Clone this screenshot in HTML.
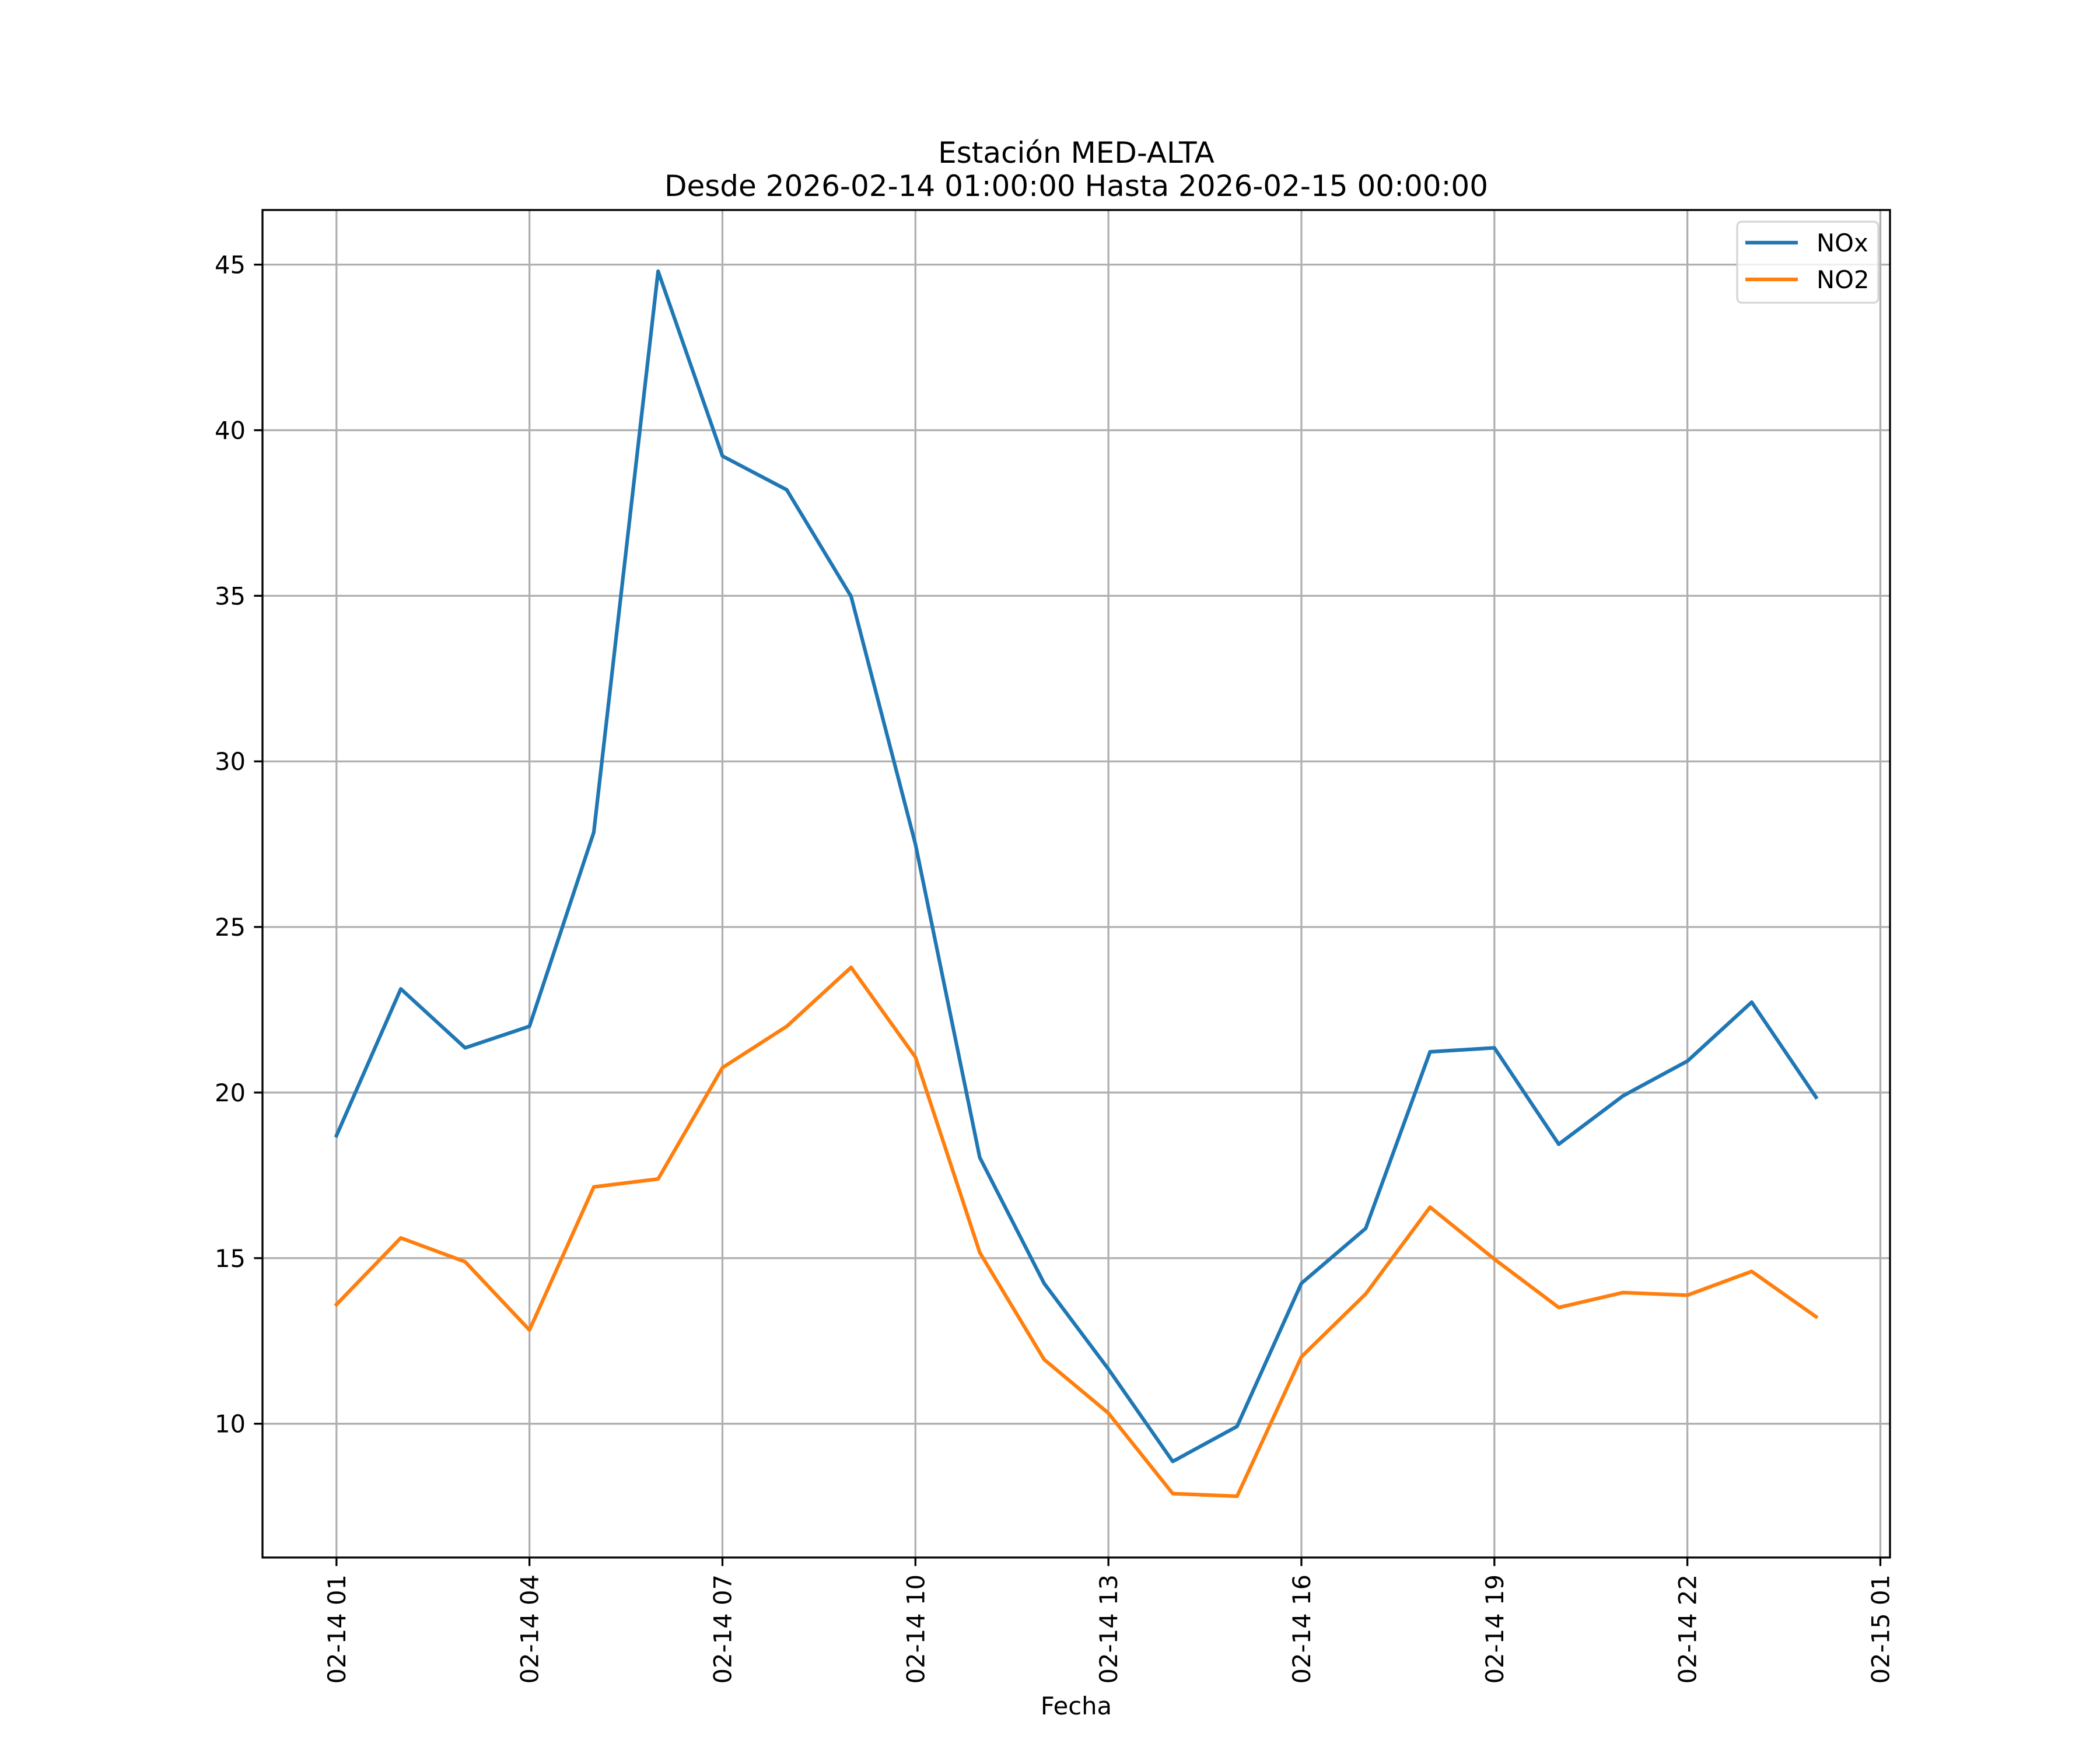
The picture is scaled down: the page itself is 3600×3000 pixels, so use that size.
<!DOCTYPE html>
<html><head><meta charset="utf-8">
<style>
html,body{margin:0;padding:0;background:#fff;}
svg{display:block;font-family:"DejaVu Sans","Liberation Sans",sans-serif;}
</style></head>
<body>
<svg id="chart" width="3600" height="3000" viewBox="0 0 3600 3000" xmlns="http://www.w3.org/2000/svg">
<rect width="3600" height="3000" fill="#fff"/>
<text x="1845" y="279" font-size="50" text-anchor="middle">Estación MED-ALTA</text>
<text x="1845" y="336" font-size="50" text-anchor="middle">Desde 2026-02-14 01:00:00 Hasta 2026-02-15 00:00:00</text>
<g id="grid"></g>
<g id="series"></g>
<g id="axes"></g>
<text x="1845" y="2939" font-size="41.7" text-anchor="middle">Fecha</text>
<g id="legend">
<rect x="2978" y="380" width="242" height="139" rx="8" fill="#fff" fill-opacity="0.8" stroke="#d6d6d6" stroke-width="3.3"/>
<line x1="2992" y1="416" x2="3082" y2="416" stroke="#1f77b4" stroke-width="6.25"/>
<text x="3114" y="431" font-size="41.7">NOx</text>
<line x1="2992" y1="479" x2="3082" y2="479" stroke="#ff7f0e" stroke-width="6.25"/>
<text x="3114" y="494" font-size="41.7">NO2</text>
</g>
</svg>
<script>
const hours = [1,2,3,4,5,6,7,8,9,10,11,12,13,14,15,16,17,18,19,20,21,22,23,24];
const noxValues = [18.7,23.13,21.35,22.0,27.86,44.8,39.22,38.2,34.98,27.5,18.04,14.24,11.65,8.86,9.92,14.24,15.9,21.23,21.35,18.44,19.9,20.95,22.73,19.86];
const no2Values = [13.6,15.61,14.89,12.83,17.15,17.39,20.75,22.0,23.78,21.07,15.17,11.94,10.32,7.89,7.81,12.02,13.92,16.54,14.97,13.51,13.96,13.88,14.6,13.23];
const xTickHours = [1,4,7,10,13,16,19,22,25];
const xTickLabels = ["02-14 01","02-14 04","02-14 07","02-14 10","02-14 13","02-14 16","02-14 19","02-14 22","02-15 01"];
const yTicks = [10,15,20,25,30,35,40,45];

const NS="http://www.w3.org/2000/svg";
const L=450,R=3240,T=360,B=2670;
const xmin0=Math.min(...hours),xmax0=Math.max(...hours),xm=(xmax0-xmin0)*0.05;
const allV=noxValues.concat(no2Values);
const ymin0=Math.min(...allV),ymax0=Math.max(...allV),ym=(ymax0-ymin0)*0.05;
const X0=xmin0-xm,X1=xmax0+xm,Y0=ymin0-ym,Y1=ymax0+ym;
function xs(v){return L+(v-X0)/(X1-X0)*(R-L);}
function ys(v){return B-(v-Y0)/(Y1-Y0)*(B-T);}
function mk(tag,attrs,parent){const e=document.createElementNS(NS,tag);for(const k in attrs)e.setAttribute(k,attrs[k]);parent.appendChild(e);return e;}
const grid=document.getElementById('grid'),axes=document.getElementById('axes'),series=document.getElementById('series');

xTickHours.forEach((h,i)=>{
  const x=xs(h);
  const g=mk('line',{x1:x,y1:T,x2:x,y2:B,stroke:'#b0b0b0','stroke-width':3.3},grid);
  
  
  const t=mk('line',{x1:x,y1:B,x2:x,y2:B+14.6,stroke:'#000','stroke-width':3.3},axes);
  
  
  const lb=mk('text',{x:0,y:0,'font-size':41.7,'text-anchor':'end',transform:`translate(${x+15},${B+29}) rotate(-90)`},axes);
  lb.textContent=xTickLabels[i];
  
  
});
yTicks.forEach(v=>{
  const y=ys(v);
  const g=mk('line',{x1:L,y1:y,x2:R,y2:y,stroke:'#b0b0b0','stroke-width':3.3},grid);
  
  
  const t=mk('line',{x1:L-14.6,y1:y,x2:L,y2:y,stroke:'#000','stroke-width':3.3},axes);
  
  
  const lb=mk('text',{x:L-29,y:y+15,'font-size':41.7,'text-anchor':'end'},axes);
  lb.textContent=String(v);
  
  
});
function drawLine(vals,color,name){
  const pts=vals.map((v,i)=>xs(hours[i]).toFixed(2)+','+ys(v).toFixed(2)).join(' ');
  const p=mk('polyline',{points:pts,fill:'none',stroke:color,'stroke-width':6.25,'stroke-linejoin':'round','stroke-linecap':'square'},series);
  
  
}
drawLine(noxValues,'#1f77b4','nox-line');
drawLine(no2Values,'#ff7f0e','no2-line');
const frame=mk('rect',{x:L,y:T,width:R-L,height:B-T,fill:'none',stroke:'#000','stroke-width':3.3},axes);


</script>
</body></html>
